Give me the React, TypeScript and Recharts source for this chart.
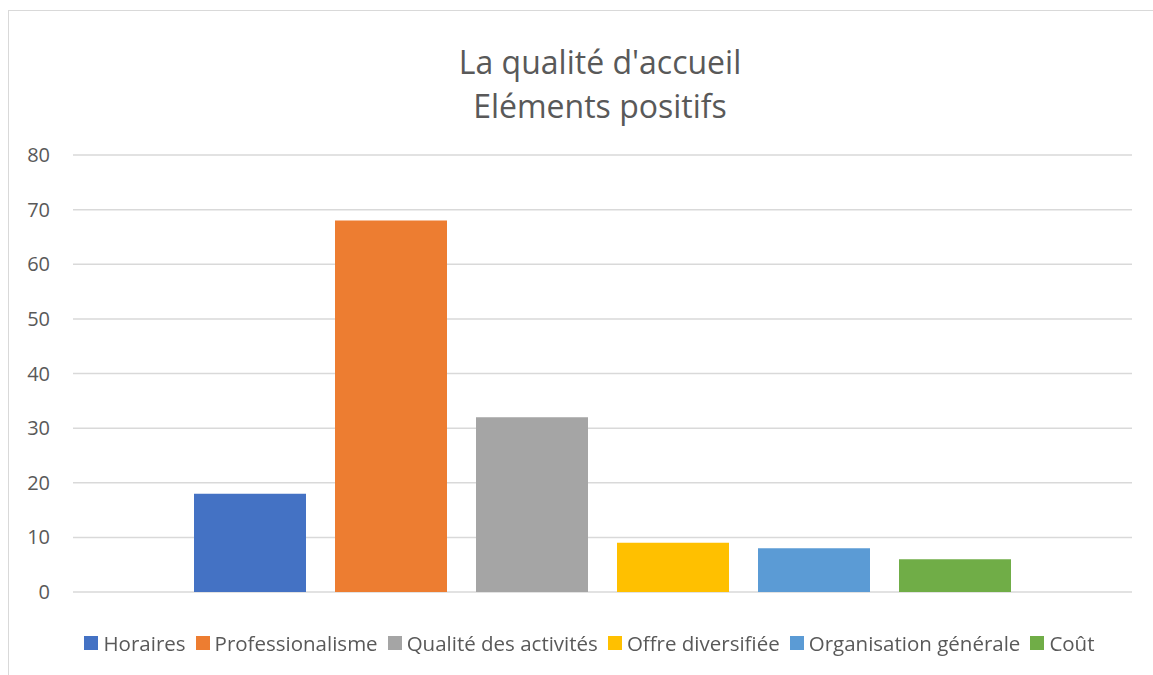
import { BarChart, Bar, XAxis, YAxis, CartesianGrid } from 'recharts'

const categories = ['Eléments positifs']
const seriesNames = ['Horaires', 'Professionalisme', 'Qualité des activités', 'Offre diversifiée', 'Organisation générale', 'Coût']
const seriesValues = [18, 68, 32, 9, 8, 6]
const seriesColors = ['#4472C4', '#ED7D31', '#A5A5A5', '#FFC000', '#5B9BD5', '#70AD47']
const yTicks = [0, 10, 20, 30, 40, 50, 60, 70, 80]
const titleLines = ["La qualité d'accueil", 'Eléments positifs']

const FONT = '"Open Sans", sans-serif'
const TEXT = '#595959'

export default function App() {
  // one row per category, one key per series
  const chartData = categories.map(name => {
    const row: Record<string, string | number> = { name }
    seriesNames.forEach((s, i) => { row[s] = seriesValues[i] })
    return row
  })

  return (
    <div style={{ position: 'fixed', left: 0, top: 0, width: 1153, height: 675, background: '#fff', fontFamily: FONT }}>
      <div style={{ position: 'absolute', left: 8, top: 10, width: 1200, height: 700, border: '1px solid #d9d9d9' }} />

      <div style={{ position: 'absolute', left: 0, top: 40, width: 1200, textAlign: 'center', color: TEXT, fontSize: 32, lineHeight: '44px' }}>
        {titleLines.map(t => <div key={t}>{t}</div>)}
      </div>

      <div style={{ position: 'absolute', left: 0, top: 0 }}>
        <BarChart
          width={1153}
          height={675}
          data={chartData}
          margin={{ top: 155, right: 21, left: 23, bottom: 83 }}
          barCategoryGap={121}
          barGap={29}
        >
          <CartesianGrid vertical={false} stroke="#d9d9d9" strokeWidth={1.5} />
          <XAxis dataKey="name" hide />
          <YAxis
            width={50}
            domain={[0, 80]}
            ticks={yTicks}
            axisLine={false}
            tickLine={false}
            tickSize={0}
            tickMargin={23}
            tick={{ fill: TEXT, fontSize: 20, fontFamily: FONT }}
          />
          {seriesNames.map((s, i) => (
            <Bar key={s} dataKey={s} fill={seriesColors[i]} isAnimationActive={false} />
          ))}
        </BarChart>
      </div>

      <div style={{ position: 'absolute', left: 0, top: 629, width: 1179, display: 'flex', justifyContent: 'center', color: TEXT, fontSize: 20.5, lineHeight: '28px' }}>
        {seriesNames.map((s, i) => (
          <div key={s} style={{ display: 'flex', alignItems: 'center', marginRight: i < seriesNames.length - 1 ? 10 : 0 }}>
            <div style={{ width: 14, height: 14, background: seriesColors[i], marginRight: 5 }} />
            <span>{s}</span>
          </div>
        ))}
      </div>
    </div>
  )
}
